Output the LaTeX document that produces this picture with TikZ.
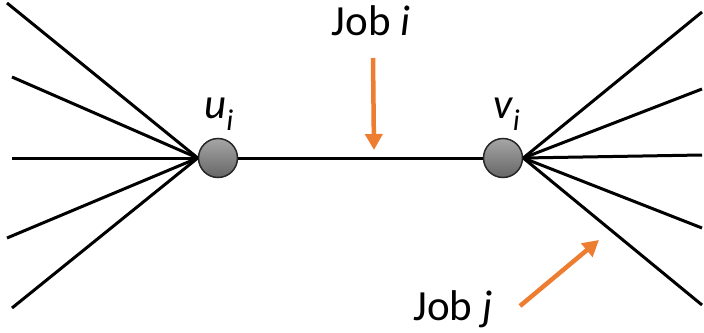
\documentclass[tikz,border=0pt]{standalone}
\usepackage{fontspec}
\setmainfont{Carlito}
\usetikzlibrary{arrows.meta}
\definecolor{jobarrow}{RGB}{237,125,49}
\tikzset{
  vert/.style={circle, draw=black!85, line width=1.5pt, minimum size=39pt, inner sep=0pt, top color=black!35, bottom color=black!60},
  edge/.style={line width=3pt, black},
  joblabel/.style={font=\fontsize{43}{50}\selectfont, inner sep=0pt, anchor=base},
  pointer/.style={jobarrow, line width=4.5pt, -{Triangle[length=16pt, width=17pt]}},
}
\begin{document}
\begin{tikzpicture}[x=1pt, y=-1pt]
\useasboundingbox (0,0) rectangle (704,332);
% far ends
\coordinate (l1) at (7,3);
\coordinate (l2) at (12,77);
\coordinate (l3) at (12,158);
\coordinate (l4) at (7,238);
\coordinate (l5) at (12,308);
\coordinate (r1) at (702,12);
\coordinate (r2) at (702,89);
\coordinate (r3) at (702,155);
\coordinate (r4) at (702,228);
\coordinate (r5) at (702,305);
\coordinate (a1s) at (373,58);
\coordinate (a1e) at (374,150);
\coordinate (a2s) at (520,306);
\coordinate (a2e) at (599,240);
% nodes
\node[vert] (u) at (218,158) {};
\node[vert] (v) at (503,158) {};
% edges
\draw[edge] (u) -- (v);
\foreach \p in {l1,l2,l3,l4,l5} \draw[edge] (\p) -- (u.west);
\foreach \p in {r1,r2,r3,r4,r5} \draw[edge] (\p) -- (v.east);
% labels
\node[joblabel] (ul) at (219,118) {\itshape u\textsubscript{i}};
\node[joblabel] (vl) at (507,118) {\itshape v\textsubscript{i}};
\node[joblabel] (ji) at (371,35) {Job \textit{i}};
\node[joblabel] (jj) at (453,320) {Job \textit{j}};
% arrows
\draw[pointer] (a1s) -- (a1e);
\draw[pointer] (a2s) -- (a2e);
\end{tikzpicture}
\end{document}
